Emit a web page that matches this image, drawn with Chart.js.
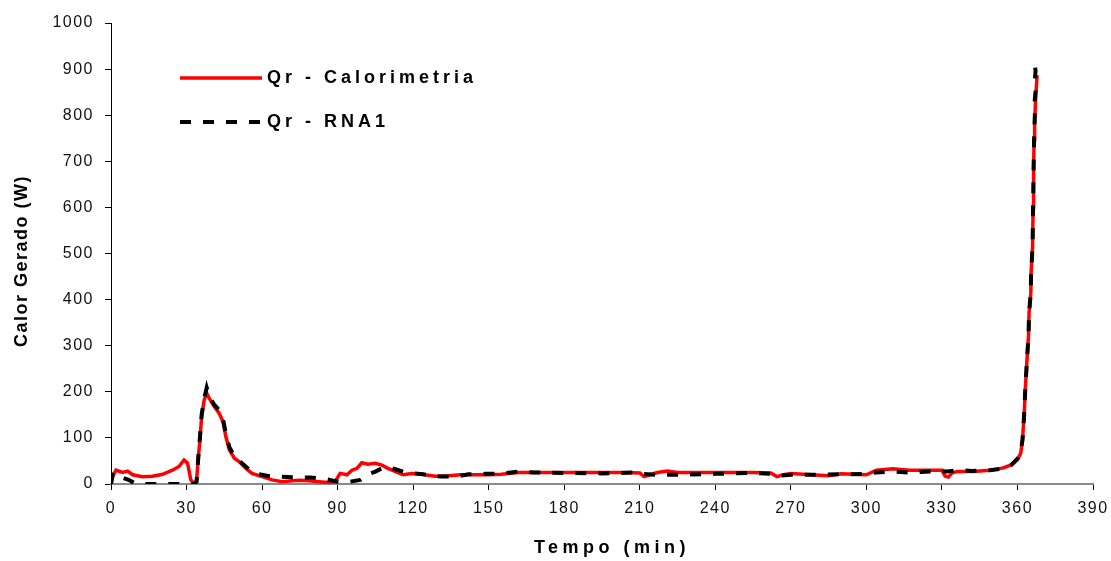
<!DOCTYPE html>
<html lang="pt">
<head>
<meta charset="utf-8">
<title>Calor Gerado x Tempo</title>
<script src="https://cdn.jsdelivr.net/npm/chart.js@4.4.1/dist/chart.umd.min.js"></script>
<style>
    html, body { margin: 0; padding: 0; background: #fff; }
    #wrap { width: 1111px; height: 561px; position: relative; }
</style>
</head>
<body>
<div id="wrap"><canvas id="calorChart"></canvas></div>
<script>
// Qr - Calorimetria (tempo em min, calor em W)
const tempoCalorimetria = [0, 0.5, 2, 4.6, 6.6, 8.6, 12.5, 16.5, 20.5, 24.4, 27, 29, 30.4, 31.7, 33, 34, 34.7, 35.3, 36, 37,
    38, 39, 41, 43, 44.5, 45.6, 47, 49, 51, 53.5, 56, 60, 64, 68, 72, 75, 78.5, 82.5, 86.4, 89,
    91, 93.7, 95.7, 97.7, 99.6, 102, 105, 107.6, 110, 113, 116, 119.5, 123.4, 128.7, 134, 139, 144.6, 150, 155, 161.7,
    168, 180, 195, 205, 210, 211.7, 214, 217, 221, 225, 240, 255, 262, 264.5, 267, 270, 275, 285, 290, 300,
    304, 310.5, 317, 329, 330, 331.3, 332.6, 334, 336, 342.5, 349, 354.4, 357.7, 360, 361.3, 362, 362.7, 363.1, 363.7, 364.4,
    364.6, 365.3, 365.4, 366, 366.2, 366.4, 366.6, 366.8, 367.2, 367.6, 367.8];
const qrCalorimetria = [0, 15, 30, 25, 28, 20, 16, 17, 21, 30, 38, 52, 45, 9, 0, 9, 59, 95, 146, 182,
    197, 186, 168, 153, 135, 103, 74, 56, 48, 34, 23, 16, 9, 5, 7, 8, 7, 5, 3, 5,
    23, 20, 30, 34, 46, 43, 45, 41, 34, 27, 20, 23, 21, 17, 18, 20, 20, 20, 21, 25,
    25, 25, 25, 25, 24, 16, 20, 25, 28, 25, 25, 25, 24, 16, 20, 23, 21, 18, 22, 20,
    30, 33, 30, 30, 30, 17, 15, 24, 27, 27, 30, 35, 42, 53, 67, 96, 154, 204, 262, 323,
    371, 414, 457, 515, 600, 680, 746, 783, 833, 870, 887];

// Qr - RNA1
const tempoRna1 = [0, 0.7, 2, 4, 7, 9, 10, 20, 30, 33, 34, 34.7, 35.3, 36, 37, 38, 39, 41, 43, 44.5,
    45.6, 47, 49, 51, 53.5, 55.5, 58, 62, 67, 70, 74, 79, 85, 90, 94, 99, 102, 105, 109, 113,
    116, 120, 124, 131, 137, 142, 148.5, 156, 162, 168, 180, 195, 209, 211, 217, 227, 240, 255, 262, 265,
    270, 280, 290, 300, 304, 311, 317, 329, 332, 337, 342, 349, 354, 357.7, 360, 361.3, 362, 362.7, 363.1, 363.7,
    364.4, 364.6, 365.3, 365.4, 366, 366.2, 366.4, 366.6, 366.8, 367, 366.8, 367.2, 366.8, 367.2, 366.8];
const qrRna1 = [0, 20, 25, 15, 9, 3, 0, 0, 0, 0, 5, 59, 100, 150, 185, 209, 190, 172, 160, 140,
    110, 80, 60, 50, 38, 28, 22, 18, 16, 15, 14, 14, 11, 5, 4, 9, 21, 27, 38, 32,
    27, 23, 21, 16, 16, 21, 22, 23, 27, 25, 24, 23, 25, 22, 20, 20, 22, 24, 22, 18,
    20, 20, 21, 22, 25, 27, 25, 28, 27, 30, 28, 30, 33, 42, 55, 70, 96, 154, 204, 262,
    323, 371, 414, 457, 515, 600, 680, 746, 783, 814, 829, 853, 868, 897, 909];

// eixos
const tempoMin = 0, tempoMax = 390, tempoPasso = 30;
const calorMin = 0, calorMax = 1000, calorPasso = 100;
const tituloX = 'Tempo (min)';
const tituloY = 'Calor Gerado (W)';

function pontos(xs, ys) {
    return xs.map(function(x, i) { return { x: x, y: ys[i] }; });
}

const FONTE = 'Arial, "Liberation Sans", sans-serif';

// titulos e legenda desenhados a mao (espacamento de letras como no original)
const textosPlugin = {
    id: 'textos',
    beforeDraw: function(chart) {
        chart.ctx.letterSpacing = '1.5px';
    },
    afterDraw: function(chart) {
        const ctx = chart.ctx;
        const area = chart.chartArea;
        ctx.save();
        ctx.fillStyle = '#000';
        ctx.textBaseline = 'middle';

        // titulo eixo X
        ctx.font = 'bold 18px ' + FONTE;
        ctx.letterSpacing = '4.5px';
        ctx.textAlign = 'center';
        ctx.fillText(tituloX, (area.left + area.right) / 2 + 10, 548);

        // titulo eixo Y
        ctx.save();
        ctx.translate(22, 261);
        ctx.rotate(-Math.PI / 2);
        ctx.letterSpacing = '1.5px';
        ctx.fillText(tituloY, 0, 0);
        ctx.restore();

        // legenda
        ctx.textAlign = 'left';
        ctx.letterSpacing = '4px';
        const linhas = [78, 122];
        chart.data.datasets.forEach(function(ds, i) {
            const y = linhas[i];
            ctx.save();
            ctx.strokeStyle = ds.borderColor;
            ctx.lineWidth = ds.borderWidth;
            ctx.setLineDash(ds.borderDash || []);
            ctx.beginPath();
            ctx.moveTo(180, y);
            ctx.lineTo(262, y);
            ctx.stroke();
            ctx.restore();
            ctx.fillText(ds.label, 267, y);
        });
        ctx.restore();
        ctx.letterSpacing = '0px';
    }
};

const ctx = document.getElementById('calorChart').getContext('2d');
new Chart(ctx, {
    type: 'line',
    data: {
        datasets: [
            {
                label: 'Qr - Calorimetria',
                data: pontos(tempoCalorimetria, qrCalorimetria),
                borderColor: '#ff0000',
                borderWidth: 3.5,
                pointRadius: 0,
                tension: 0,
                fill: false,
                order: 1
            },
            {
                label: 'Qr - RNA1',
                data: pontos(tempoRna1, qrRna1),
                borderColor: '#000000',
                borderWidth: 4,
                borderDash: [11, 12],
                borderCapStyle: 'butt',
                pointRadius: 0,
                tension: 0,
                fill: false,
                order: 0
            }
        ]
    },
    options: {
        responsive: true,
        maintainAspectRatio: false,
        animation: false,
        layout: {
            padding: { left: 0, right: 18, top: 23, bottom: 0 }
        },
        plugins: {
            legend: { display: false },
            tooltip: { enabled: false }
        },
        scales: {
            x: {
                type: 'linear',
                min: tempoMin,
                max: tempoMax,
                afterFit: function(scale) {
                    scale.height = 77;
                    scale.paddingLeft = 0;
                    scale.paddingRight = 0;
                },
                ticks: {
                    stepSize: tempoPasso,
                    padding: 9,
                    color: '#111',
                    maxRotation: 0,
                    font: { family: FONTE, size: 16 }
                },
                grid: {
                    drawOnChartArea: false,
                    drawTicks: true,
                    tickLength: 6,
                    color: '#000'
                },
                border: { display: true, color: '#8a8a8a', width: 2 }
            },
            y: {
                min: calorMin,
                max: calorMax,
                afterFit: function(scale) {
                    scale.width = 111;
                    scale.paddingTop = 0;
                    scale.paddingBottom = 0;
                },
                ticks: {
                    stepSize: calorPasso,
                    padding: 11,
                    color: '#111',
                    font: { family: FONTE, size: 16 },
                    callback: function(v) { return String(v); }
                },
                grid: {
                    drawOnChartArea: false,
                    drawTicks: true,
                    tickLength: 6,
                    color: '#000'
                },
                border: { display: true, color: '#000', width: 1 }
            }
        }
    },
    plugins: [textosPlugin]
});
</script>
</body>
</html>
